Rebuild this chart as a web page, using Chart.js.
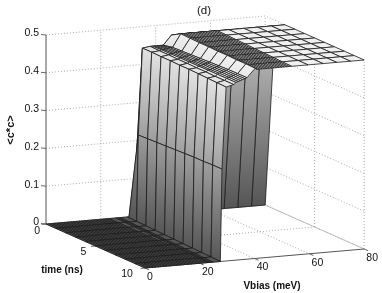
<!DOCTYPE html>
<html>
<head>
<meta charset="utf-8">
<style>
  html, body { margin: 0; padding: 0; background: #fff; }
  canvas { display: block; filter: blur(0.35px); }
</style>
<script src="https://cdn.jsdelivr.net/npm/chart.js@4/dist/chart.umd.js"></script>
</head>
<body>
<canvas id="surfaceChart" width="382" height="293"></canvas>
<script>
// Ticks
const timeTicks = [0, 5, 10];
const biasTicks = [0, 20, 40, 60, 80];
const levelTicks = [0, 0.1, 0.2, 0.3, 0.4, 0.5];
const levelLabels = ['0', '0.1', '0.2', '0.3', '0.4', '0.5'];

// Mesh lines of the surface
const timeValues = [0, 1, 2, 3, 4, 5, 6, 7, 8, 9, 10];
const floorBias = [0, 1, 2, 3, 4, 5, 6, 7, 8, 9, 10, 11, 12, 13, 14, 15, 16, 17, 18, 19, 20, 21, 22, 23];
const wallBias = [25.4, 26.2, 27, 29.7, 30.3, 31.8, 34.6, 35.4, 36.2, 37, 37.8, 38.6, 39.4, 42.4];
const plateauBias = [43.2, 44, 44.9, 45.8, 46.7, 47.6, 48.5, 49.4, 50.3, 51.2, 52.1, 53, 53.9, 54.8, 55.7, 59.5, 65, 70, 75, 80];

// The step drifts to lower bias with time (meV), one value per time
const edgeDrift = [0, -0.22, -0.44, -0.66, -0.88, -1.1, -1.32, -1.54, -1.76, -1.98, -2.2];

// <c*c>, one row per time, one column per wallBias
const wallRows = [
  [0, 0, 0, 0, 0,     0,     0,     0,     0,     0,     0,     0,     0,     0],
  [0, 0, 0, 0, 0.228, 0.457, 0.46,  0.46,  0.46,  0.46,  0.46,  0.46,  0.46,  0.485],
  [0, 0, 0, 0, 0.23,  0.458, 0.46,  0.462, 0.462, 0.463, 0.464, 0.465, 0.466, 0.5],
  [0, 0, 0, 0, 0.232, 0.458, 0.461, 0.463, 0.464, 0.465, 0.466, 0.467, 0.468, 0.5],
  [0, 0, 0, 0, 0.234, 0.459, 0.461, 0.464, 0.465, 0.466, 0.467, 0.469, 0.47,  0.5],
  [0, 0, 0, 0, 0.236, 0.459, 0.462, 0.465, 0.466, 0.467, 0.469, 0.47,  0.472, 0.501],
  [0, 0, 0, 0, 0.238, 0.46,  0.462, 0.466, 0.467, 0.469, 0.47,  0.472, 0.474, 0.501],
  [0, 0, 0, 0, 0.24,  0.46,  0.463, 0.467, 0.468, 0.47,  0.472, 0.474, 0.476, 0.502],
  [0, 0, 0, 0, 0.241, 0.46,  0.463, 0.468, 0.47,  0.472, 0.474, 0.476, 0.478, 0.502],
  [0, 0, 0, 0, 0.243, 0.46,  0.464, 0.469, 0.471, 0.473, 0.475, 0.477, 0.479, 0.503],
  [0, 0, 0, 0, 0.244, 0.46,  0.465, 0.47,  0.472, 0.474, 0.476, 0.478, 0.48,  0.503]
];
// Level of the flat top, one value per time
const plateauLevel = [0, 0.485, 0.5, 0.5, 0.5, 0.5, 0.5, 0.5, 0.5, 0.5, 0.5];

const surfaceBias = floorBias.concat(wallBias, plateauBias);
const driftFrom = floorBias.length;
const driftTo = driftFrom + wallBias.length + 15; // the coarse mesh at high bias stays put

function levelAt(ti, j) {
    if (j < floorBias.length) return 0;
    if (j < floorBias.length + wallBias.length) return wallRows[ti][j - floorBias.length];
    return plateauLevel[ti];
}

function biasAt(ti, j) {
    const drift = j >= driftFrom && j < driftTo ? edgeDrift[ti] : 0;
    return surfaceBias[j] + drift;
}

// View of the box, in page units
function project(time, bias, level) {
    return {
        x: 46 + 9.9 * time + 2.74 * bias,
        y: 224 + 4.4 * time - 0.2375 * bias - 378 * level
    };
}

function grayOf(level, backFacing) {
    const g = Math.round(backFacing ? 85 + 230 * level : 85 + 310 * level);
    return `rgb(${g},${g},${g})`;
}

var datasets = [];

function addLine(points, color, width, dash) {
    datasets.push({
        data: points,
        showLine: true,
        fill: false,
        borderColor: color,
        borderWidth: width,
        borderDash: dash || [],
        pointRadius: 0,
        tension: 0
    });
}

function addQuad(points, levels, backFacing) {
    datasets.push({
        data: points.concat([points[0]]),
        showLine: true,
        fill: 'shape',
        borderColor: '#1c1c1c',
        borderWidth: 0.8,
        borderJoinStyle: 'round',
        pointRadius: 0,
        tension: 0,
        backgroundColor: function (ctx) {
            const hi = Math.max(...levels), lo = Math.min(...levels);
            if (hi - lo < 0.002) return grayOf(hi, backFacing);
            const yScale = ctx.chart.scales.y;
            const ys = points.map(p => yScale.getPixelForValue(p.y));
            // scales are not laid out yet on the first pass
            if (!ys.every(Number.isFinite)) return grayOf(hi, backFacing);
            const grad = ctx.chart.ctx.createLinearGradient(0, Math.min(...ys), 0, Math.max(...ys));
            grad.addColorStop(0, grayOf(hi, backFacing));
            grad.addColorStop(1, grayOf(lo, backFacing));
            return grad;
        }
    });
}

// Grid on the back walls and the floor
const dotted = [1, 2];
levelTicks.forEach(z => {
    addLine([project(0, 0, z), project(0, 80, z), project(10, 80, z)], '#a0a0a0', 0.9, dotted);
});
biasTicks.slice(1).forEach(v => {
    addLine([project(0, v, 0), project(0, v, 0.5)], '#a0a0a0', 0.9, dotted);
    if (v < 80) addLine([project(0, v, 0), project(10, v, 0)], '#a0a0a0', 0.9, dotted);
});
timeTicks.slice(1).forEach(t => {
    addLine([project(t, 80, 0), project(t, 80, 0.5)], '#a0a0a0', 0.9, dotted);
    if (t < 10) addLine([project(t, 0, 0), project(t, 80, 0)], '#a0a0a0', 0.9, dotted);
});
addLine([project(0, 80, 0), project(10, 80, 0)], '#b8b8b8', 0.9);
addLine([project(0, 0, 0), project(0, 80, 0)], '#b8b8b8', 0.9);

// Axis lines and tick marks
addLine([project(0, 0, 0), project(0, 0, 0.5)], '#555', 1);
levelTicks.forEach(z => {
    const p = project(0, 0, z);
    addLine([p, { x: p.x - 5, y: p.y - 0.5 }], '#555', 0.9);
});
addLine([project(0, 0, 0), project(10, 0, 0)], '#555', 0.9);
addLine([project(10, 0, 0), project(10, 80, 0)], '#555', 1);
biasTicks.forEach(v => {
    addLine([project(10, v, 0), project(10.4, v, 0)], '#555', 0.9);
});
timeTicks.forEach(t => {
    addLine([project(t, 0, 0), project(t, -1.6, 0)], '#555', 0.9);
});

// Surface, far cells first
for (let ti = 0; ti < timeValues.length - 1; ti++) {
    for (let j = surfaceBias.length - 2; j >= 0; j--) {
        const corners = [[ti, j], [ti, j + 1], [ti + 1, j + 1], [ti + 1, j]];
        const levels = corners.map(c => levelAt(c[0], c[1]));
        const points = corners.map((c, k) => project(timeValues[c[0]], biasAt(c[0], c[1]), levels[k]));
        addQuad(points, levels, ti === 0);
    }
}

// Text, placed from the same scales
const axisText = {
    id: 'axisText',
    afterDraw(chart) {
        const c = chart.ctx;
        const px = p => chart.scales.x.getPixelForValue(p.x);
        const py = p => chart.scales.y.getPixelForValue(p.y);
        c.save();
        c.fillStyle = '#111';
        c.textBaseline = 'middle';
        c.font = '10.5px "Liberation Sans"';
        c.textAlign = 'right';
        levelTicks.forEach((z, i) => {
            const p = project(0, 0, z);
            c.fillText(levelLabels[i], px(p) - 7, py(p) - 1.5);
        });
        c.fillText(String(timeTicks[0]), 40, 231);
        c.textAlign = 'center';
        timeTicks.slice(1).forEach(t => {
            const p = project(t, 0, 0);
            c.fillText(String(t), px(p) + (t === 10 ? -18 : -12), py(p) + 6);
        });
        biasTicks.forEach(v => {
            const p = project(10, v, 0);
            c.fillText(String(v), px(p) + (v > 0 ? 8 : 5), py(p) + 9);
        });
        c.font = '11.5px "Liberation Sans"';
        c.fillText('(d)', 204, 11);
        c.font = 'bold 10px "Liberation Sans"';
        c.fillText('time (ns)', 62, 270);
        c.fillText('Vbias (meV)', 272, 286);
        c.font = 'bold 11px "Liberation Sans"';
        c.translate(11, 130);
        c.rotate(-Math.PI / 2);
        c.fillText('<c*c>', 0, 0);
        c.restore();
    }
};

var ctx = document.getElementById('surfaceChart').getContext('2d');
var surfaceChart = new Chart(ctx, {
    type: 'scatter',
    data: { datasets: datasets.reverse() }, // first dataset is painted last
    options: {
        responsive: false,
        animation: false,
        devicePixelRatio: 1,
        events: [],
        clip: false,
        layout: { padding: 0 },
        plugins: {
            legend: { display: false },
            tooltip: { enabled: false },
            title: { display: false }
        },
        scales: {
            x: { type: 'linear', min: 0, max: 382, display: false },
            y: { type: 'linear', min: 0, max: 293, reverse: true, display: false }
        }
    },
    plugins: [axisText]
});
</script>
</body>
</html>
